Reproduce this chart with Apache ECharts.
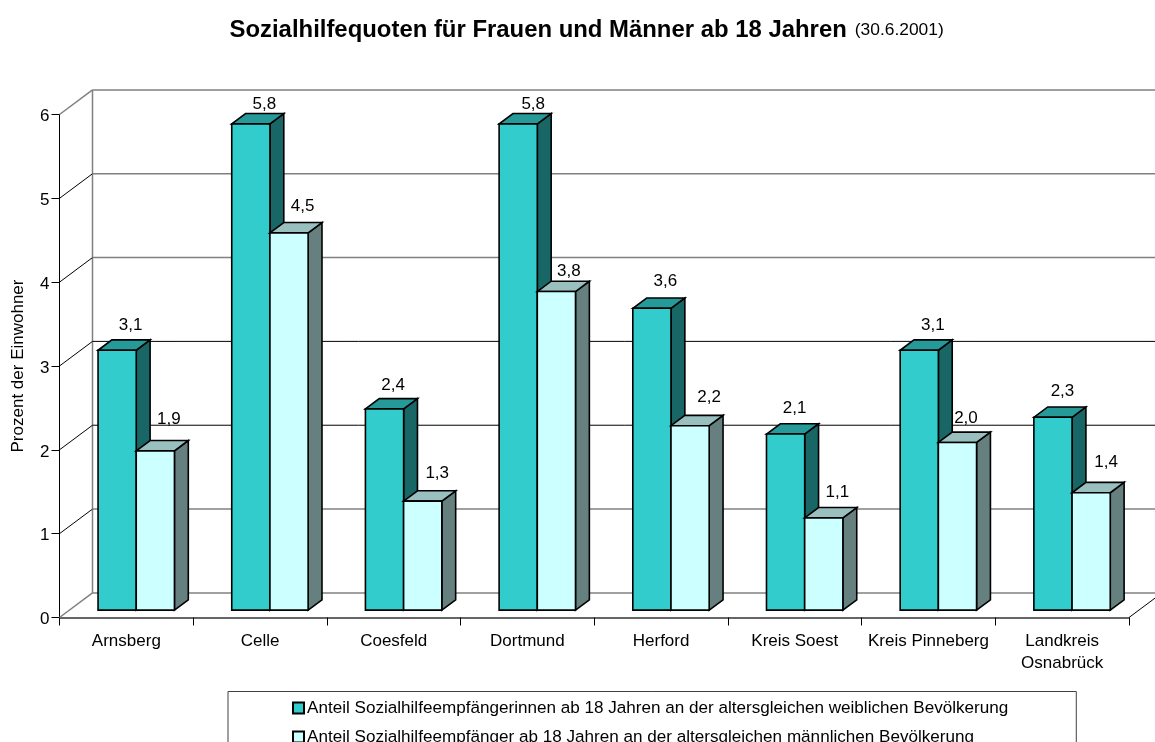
<!DOCTYPE html>
<html><head><meta charset="utf-8">
<style>html,body{margin:0;padding:0;background:#fff;overflow:hidden}#c{width:1155px;height:742px}</style>
<script src="https://cdn.jsdelivr.net/npm/echarts@6/dist/echarts.min.js"></script>
</head><body><div id="c"></div>
<script>
const categories = ['Arnsberg','Celle','Coesfeld','Dortmund','Herford','Kreis Soest','Kreis Pinneberg','Landkreis\nOsnabrück'];
const frauen = [3.1,5.8,2.4,5.8,3.6,2.1,3.1,2.3];
const maenner = [1.9,4.5,1.3,3.8,2.2,1.1,2.0,1.4];
const yTicks = [0,1,2,3,4,5,6];
const nameFrauen = 'Anteil Sozialhilfeempfängerinnen ab 18 Jahren an der altersgleichen weiblichen Bevölkerung';
const nameMaenner = 'Anteil Sozialhilfeempfänger ab 18 Jahren an der altersgleichen männlichen Bevölkerung';

// oblique projection of the chart's depth axis
const WALL_DX = 33, WALL_DY = -24.6;
const BAR_FRONT = 0.3, BAR_BACK = 0.72;
const LABEL_DX = 13.5, LABEL_DY = -26;
// small per-label placement nudges, kept apart from the data
const nudgeFrauen = [[0,1],[0,6],[-5,2],[1.5,6],[0,-1],[-4.5,0],[0,1],[-4,0]];
const nudgeMaenner = [[0,-6],[0,-1],[1,-2],[-1,6],[5.5,-2],[0,0],[-5,2],[1.5,-4]];
const FONT = '"Liberation Sans", Arial, sans-serif';
const STROKE = {stroke:'#000', lineWidth:1.6, lineJoin:'miter'};

function wallItem(params, api){
  const v = api.value(0), cs = params.coordSys;
  const y = api.coord([0, v])[1];
  const left = cs.x, right = cs.x + cs.width;
  const bx = left + WALL_DX, by = y + WALL_DY;
  const edge = (v === 0 || v === 6);
  const thin = (v === 2 || v === 3);
  const children = [
    {type:'line', shape:{x1:left,y1:y,x2:bx,y2:by}, style:{stroke: edge?'#808080':'#000', lineWidth: edge?1.5:1}},
    {type:'line', shape:{x1:bx,y1:by,x2:right+WALL_DX,y2:by}, style:{stroke: thin?'#000':'#808080', lineWidth: thin?1:1.5}}
  ];
  if (v === 0) {
    const top = api.coord([0, yTicks[yTicks.length-1]])[1] + WALL_DY;
    children.push({type:'line', shape:{x1:bx,y1:by,x2:bx,y2:top}, style:{stroke:'#808080', lineWidth:1.5}});
    children.push({type:'line', shape:{x1:right,y1:y,x2:right+WALL_DX,y2:by}, style:{stroke:'#000', lineWidth:1}});
  }
  return {type:'group', children};
}

function barRenderer(side, nudge, front, topCol, sideCol){
  return function(params, api){
    const p = api.coord([api.value(0), api.value(1)]);
    const base = api.coord([api.value(0), 0]);
    const band = api.size([1,0])[0];
    const w = band * 2 / 7;
    const ox = WALL_DX * BAR_FRONT, oy = WALL_DY * BAR_FRONT;
    const dx = WALL_DX * (BAR_BACK-BAR_FRONT), dy = WALL_DY * (BAR_BACK-BAR_FRONT);
    const x0 = p[0] + ox + (side < 0 ? -w : 0), x1 = x0 + w;
    const yT = p[1] + oy, yB = base[1] + oy;
    const label = api.value(1).toFixed(1).replace('.', ',');
    const n = nudge[params.dataIndex];
    return {type:'group', children:[
      {type:'polygon', shape:{points:[[x1,yB],[x1+dx,yB+dy],[x1+dx,yT+dy],[x1,yT]]}, style:Object.assign({fill:sideCol},STROKE)},
      {type:'polygon', shape:{points:[[x0,yT],[x0+dx,yT+dy],[x1+dx,yT+dy],[x1,yT]]}, style:Object.assign({fill:topCol},STROKE)},
      {type:'rect', shape:{x:x0,y:yT,width:w,height:yB-yT}, style:Object.assign({fill:front},STROKE)},
      {type:'text', x:(x0+x1)/2+LABEL_DX+n[0], y:yT+LABEL_DY+n[1], style:{text:label, font:'17px '+FONT, fill:'#000', textAlign:'center', textVerticalAlign:'middle'}}
    ]};
  };
}

const chart = echarts.init(document.getElementById('c'), null, {renderer:'canvas'});
chart.setOption({
  animation:false,
  backgroundColor:'#fff',
  textStyle:{fontFamily:FONT},
  title:{
    left:229.5, top:18, padding:0,
    text:'{b|Sozialhilfequoten für Frauen und Männer ab 18 Jahren} {s|(30.6.2001)}',
    textStyle:{rich:{
      b:{fontFamily:FONT,fontWeight:'bold',fontSize:23.9,color:'#000'},
      s:{fontFamily:FONT,fontWeight:'normal',fontSize:17.4,color:'#000',padding:[0,0,0,3]}
    }}
  },
  grid:{left:59.5,right:26,top:114.5,bottom:124.5,containLabel:false,outerBoundsMode:'none'},
  xAxis:{type:'category',data:categories,
    axisLine:{lineStyle:{color:'#333',width:1.5}},
    axisTick:{show:true,alignWithLabel:false,length:8,lineStyle:{color:'#000'}},
    axisLabel:{color:'#000',fontSize:17,fontFamily:FONT,margin:13,lineHeight:22,interval:0},
    splitLine:{show:false}},
  yAxis:{type:'value',min:0,max:6,interval:1,
    name:'Prozent der Einwohner',nameLocation:'middle',nameGap:32.5,
    nameTextStyle:{color:'#000',fontSize:17,fontFamily:FONT},
    axisLine:{show:true,lineStyle:{color:'#000',width:1}},
    axisTick:{show:true,length:8,lineStyle:{color:'#000'}},
    axisLabel:{margin:10,formatter:'{a|{value}}',
      rich:{a:{color:'#000',fontSize:17,fontFamily:FONT,padding:[4,0,0,0]}}},
    splitLine:{show:false}},
  legend:{
    show:true,orient:'vertical',left:228,top:691.5,height:90,
    data:[nameFrauen,nameMaenner],
    padding:[8,68,12,64],itemGap:12,itemWidth:11,itemHeight:11,
    icon:'rect',borderColor:'#404040',borderWidth:1,
    textStyle:{color:'#000',fontSize:17.1,fontFamily:FONT,padding:[0,0,0,-2]}
  },
  series:[
    {type:'custom',name:'walls',silent:true,z:1,coordinateSystem:'cartesian2d',
      data:yTicks.map(v=>[v]),encode:{y:0},renderItem:wallItem},
    {type:'custom',name:nameFrauen,z:2,coordinateSystem:'cartesian2d',
      data:frauen.map((v,i)=>[i,v]),encode:{x:0,y:1},
      itemStyle:{color:'#33CCCC',borderColor:'#000',borderWidth:1.2},
      renderItem:barRenderer(-1,nudgeFrauen,'#33CCCC','#269999','#196666')},
    {type:'custom',name:nameMaenner,z:3,coordinateSystem:'cartesian2d',
      data:maenner.map((v,i)=>[i,v]),encode:{x:0,y:1},
      itemStyle:{color:'#CCFFFF',borderColor:'#000',borderWidth:1.2},
      renderItem:barRenderer(1,nudgeMaenner,'#CCFFFF','#99BFBF','#668080')}
  ]
});
</script></body></html>
